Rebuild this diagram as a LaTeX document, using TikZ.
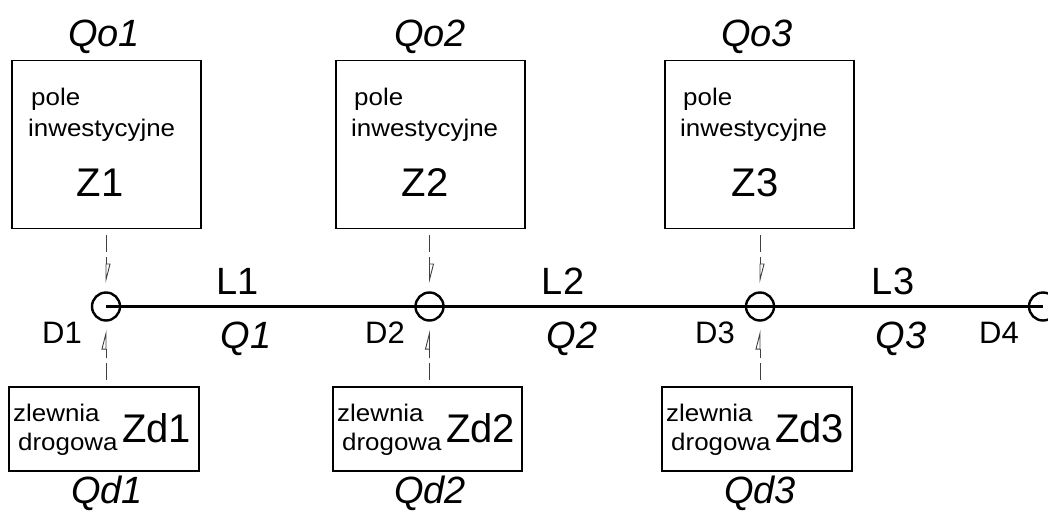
\documentclass[tikz,border=0pt]{standalone}
\usepackage{fontspec}
\setmainfont{Liberation Sans}
\newfontfamily\widefont[FakeStretch=1.08]{Liberation Sans}
\usetikzlibrary{arrows.meta}
\begin{document}
\begin{tikzpicture}[x=1pt,y=-1pt,
  box/.style={draw,line width=1.4pt,inner sep=0pt},
  junction/.style={circle,draw,line width=2.4pt,minimum size=28pt,inner sep=0pt},
  feed/.style={draw=black!75,line width=0.9pt,dash pattern=on 0pt off 6pt on 17pt off 5pt on 9pt off 2pt,
     shorten >=8pt,-{Triangle[open,left,length=18pt,width=9pt,line width=0.9pt]}},
  flowlbl/.style={font=\fontsize{38}{40}\selectfont\itshape,inner sep=0pt},
  smalltxt/.style={font=\widefont\fontsize{24}{26}\selectfont,inner sep=0pt},
  bigtxt/.style={font=\fontsize{40}{42}\selectfont,inner sep=0pt},
  dlbl/.style={font=\fontsize{31}{33}\selectfont,inner sep=0pt},
  llbl/.style={font=\fontsize{38}{40}\selectfont,inner sep=0pt}]
\useasboundingbox (0,0) rectangle (1048,514);
% top boxes
\node[box,minimum width=189pt,minimum height=168pt] (Z1) at (106.5,144.5) {};
\node[box,minimum width=189pt,minimum height=168pt] (Z2) at (430.5,144.5) {};
\node[box,minimum width=189pt,minimum height=168pt] (Z3) at (759.5,144.5) {};
% bottom boxes
\node[box,minimum width=190pt,minimum height=84pt] (Zd1) at (104,429) {};
\node[box,minimum width=189pt,minimum height=84pt] (Zd2) at (427.5,429) {};
\node[box,minimum width=190pt,minimum height=84pt] (Zd3) at (757,429) {};
% junctions
\coordinate (c1) at (106,306.5);
\coordinate (c2) at (429.5,306.5);
\coordinate (c3) at (760,306.5);
\coordinate (c4) at (1043,306.5);
\draw[line width=3.4pt] (c1) -- (c4);
\node[junction] (D1) at (c1) {};
\node[junction] (D2) at (c2) {};
\node[junction] (D3) at (c3) {};
\node[junction] (D4) at (c4) {};
% feeds
\foreach \i in {1,2,3}{
  \draw[feed] (Z\i.south -| D\i) -- (D\i.north);
  \draw[feed] (Zd\i.north -| D\i) -- (D\i.south);
}
% box texts
\foreach \i/\x in {1/31,2/354,3/683}{
  \node[smalltxt,anchor=base west] (p\i) at (\x,105) {pole};
  \node[smalltxt,anchor=base west] (w\i) at ([xshift=-3pt]\x,136) {inwestycyjne};
}
\node[bigtxt,anchor=base] (z1) at (100,196) {Z1};
\node[bigtxt,anchor=base] (z2) at (425,196) {Z2};
\node[bigtxt,anchor=base] (z3) at (755,196) {Z3};
\foreach \i/\x in {1/13,2/337,3/666}{
  \node[smalltxt,anchor=base west] (zl\i) at (\x,421) {zlewnia};
  \node[smalltxt,anchor=base west] (dr\i) at ([xshift=5pt]\x,450) {drogowa};
}
\node[bigtxt,anchor=base west] (zd1) at (122,442) {Zd1};
\node[bigtxt,anchor=base west] (zd2) at (446,442) {Zd2};
\node[bigtxt,anchor=base west] (zd3) at (775,442) {Zd3};
% flow labels
\node[flowlbl,anchor=base] (qo1) at (104,46) {Qo1};
\node[flowlbl,anchor=base] (qo2) at (430,46) {Qo2};
\node[flowlbl,anchor=base] (qo3) at (757,46) {Qo3};
\node[flowlbl,anchor=base] (qd1) at (107,503) {Qd1};
\node[flowlbl,anchor=base] (qd2) at (430,503) {Qd2};
\node[flowlbl,anchor=base] (qd3) at (760,503) {Qd3};
\node[flowlbl,anchor=base] (q1) at (246,348) {Q1};
\node[flowlbl,anchor=base] (q2) at (572,348) {Q2};
\node[flowlbl,anchor=base] (q3) at (901,348) {Q3};
\node[llbl,anchor=base] (l1) at (238,294) {L1};
\node[llbl,anchor=base] (l2) at (563,294) {L2};
\node[llbl,anchor=base] (l3) at (893,294) {L3};
\node[dlbl,anchor=base] (d1) at (62,343) {D1};
\node[dlbl,anchor=base] (d2) at (385,343) {D2};
\node[dlbl,anchor=base] (d3) at (715,343) {D3};
\node[dlbl,anchor=base] (d4) at (999,343) {D4};
\end{tikzpicture}
\end{document}
